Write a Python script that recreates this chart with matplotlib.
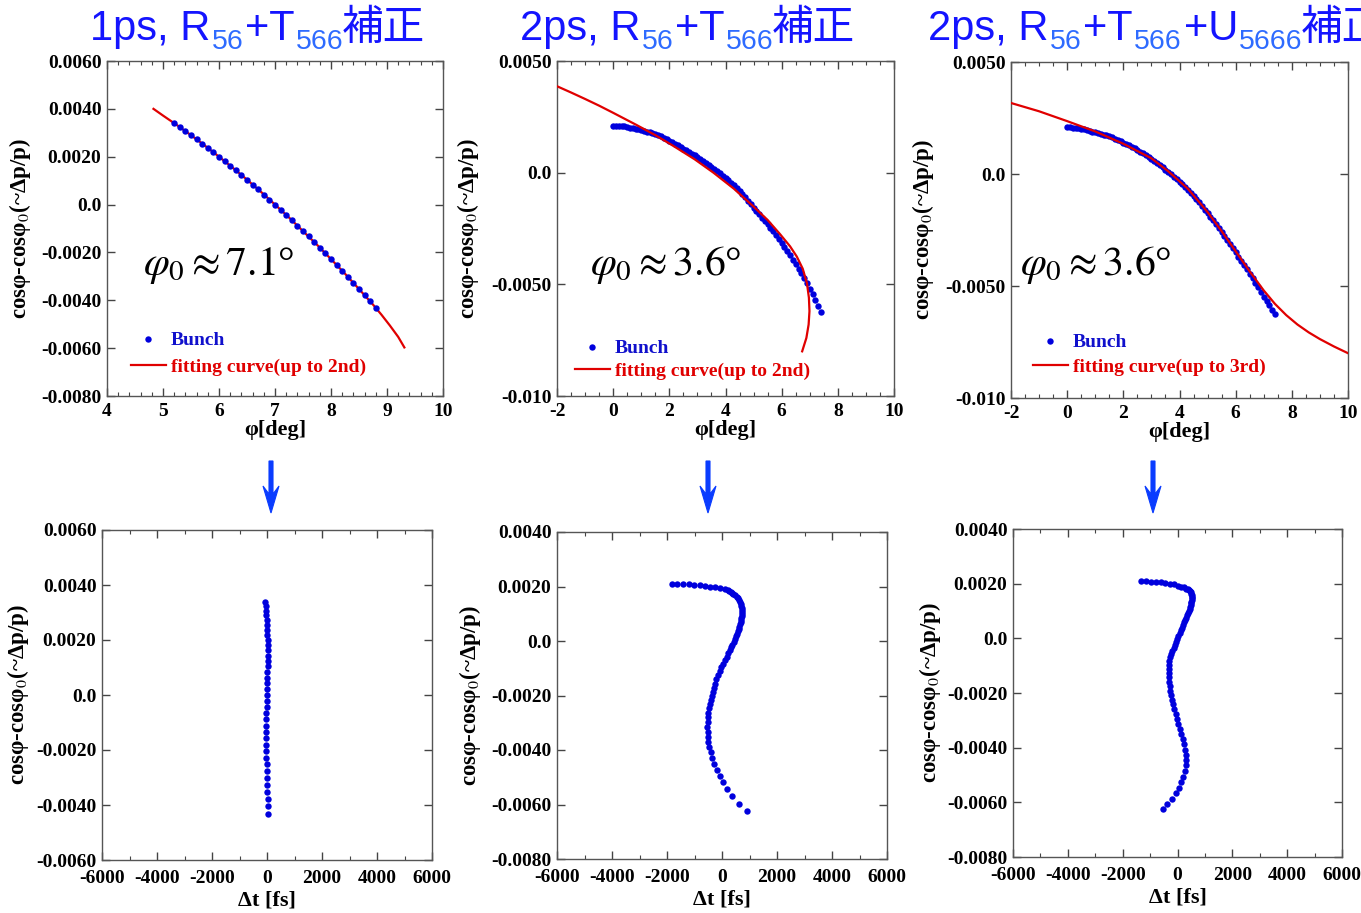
import matplotlib
matplotlib.use("Agg")
import matplotlib.pyplot as plt
from matplotlib.patches import Polygon
from matplotlib.lines import Line2D
from matplotlib.ticker import FixedLocator, FixedFormatter, MultipleLocator

plt.rcParams['font.family'] = ['Liberation Serif', 'DejaVu Serif']
plt.rcParams['mathtext.fontset'] = 'stix'
plt.rcParams['axes.unicode_minus'] = False

# ---------------- data ----------------
# column 1 : 1ps, R56+T566
phi_1ps = [5.2, 5.3, 5.4, 5.5, 5.6, 5.7, 5.8, 5.9, 6.0, 6.1, 6.2, 6.3, 6.4, 6.5, 6.6, 6.7, 6.8, 6.9,
           7.0, 7.1, 7.2, 7.3, 7.4, 7.5, 7.6, 7.7, 7.8, 7.9, 8.0, 8.1, 8.2, 8.3, 8.4, 8.5, 8.6, 8.7, 8.8]
dp_1ps = [0.00340, 0.00323, 0.00307, 0.00290, 0.00272, 0.00255, 0.00237, 0.00219, 0.00200, 0.00181,
          0.00162, 0.00143, 0.00123, 0.00104, 0.00083, 0.00063, 0.00042, 0.00021, 0.0, -0.00022,
          -0.00043, -0.00065, -0.00088, -0.00111, -0.00133, -0.00157, -0.00180, -0.00204, -0.00228,
          -0.00252, -0.00277, -0.00302, -0.00327, -0.00353, -0.00378, -0.00404, -0.00431]
dt_1ps = [-60, -45, -30, -20, -10, 0, 10, 15, 20, 25, 25, 25, 25, 20, 15, 10, 5, 0, -5, -10,
          -15, -20, -20, -25, -25, -25, -25, -20, -20, -15, -10, -5, 0, 10, 20, 30, 45]
fit_phi_1ps = [4.83, 5.0, 5.25, 5.5, 5.75, 6.0, 6.25, 6.5, 6.75, 7.0, 7.25, 7.5, 7.75, 8.0, 8.25,
               8.5, 8.75, 8.9, 9.05, 9.2, 9.31]
fit_dp_1ps = [0.00400, 0.00372, 0.00332, 0.00290, 0.00246, 0.00200, 0.00153, 0.00104, 0.00053, 0.0,
              -0.00054, -0.00111, -0.00168, -0.00228, -0.00289, -0.00353, -0.00418, -0.00460,
              -0.00505, -0.00553, -0.00597]

# columns 2 and 3 : 2ps
phi_2ps = [0.0, 0.1, 0.2, 0.3, 0.4, 0.5, 0.6, 0.7, 0.8, 0.9,
           1.0, 1.1, 1.2, 1.3, 1.4, 1.5, 1.6, 1.7, 1.8, 1.9,
           2.0, 2.1, 2.2, 2.3, 2.4, 2.5, 2.6, 2.7, 2.8, 2.9,
           3.0, 3.1, 3.2, 3.3, 3.4, 3.5, 3.6, 3.7, 3.8, 3.9,
           4.0, 4.1, 4.2, 4.3, 4.4, 4.5, 4.6, 4.7, 4.8, 4.9,
           5.0, 5.1, 5.2, 5.3, 5.4, 5.5, 5.6, 5.7, 5.8, 5.9,
           6.0, 6.1, 6.2, 6.3, 6.4, 6.5, 6.6, 6.7, 6.8, 6.9,
           7.0, 7.1, 7.2, 7.3, 7.4]
dp_2ps_T = [0.00210, 0.00210, 0.00209, 0.00208, 0.00207, 0.00205, 0.00202, 0.00200, 0.00197, 0.00194,
            0.00190, 0.00187, 0.00183, 0.00180, 0.00176, 0.00172, 0.00167, 0.00162, 0.00156, 0.00150,
            0.00143, 0.00136, 0.00129, 0.00122, 0.00115, 0.00108, 0.00100, 0.00093, 0.00085, 0.00077,
            0.00069, 0.00061, 0.00053, 0.00044, 0.00035, 0.00026, 0.00017, 0.00007, -0.00003, -0.00013,
            -0.00023, -0.00034, -0.00045, -0.00057, -0.00070, -0.00083, -0.00097, -0.00111, -0.00126, -0.00141,
            -0.00156, -0.00171, -0.00186, -0.00201, -0.00216, -0.00231, -0.00247, -0.00263, -0.00280, -0.00297,
            -0.00315, -0.00333, -0.00352, -0.00370, -0.00389, -0.00409, -0.00430, -0.00451, -0.00472, -0.00495,
            -0.00519, -0.00544, -0.00570, -0.00597, -0.00624]
dt_2ps_T = [-1818, -1624, -1420, -1215, -1010, -810, -615, -425, -240, -60,
            120, 212, 268, 310, 366, 418, 480, 538, 584, 630,
            655, 679, 702, 712, 722, 729, 722, 717, 706, 692,
            677, 654, 631, 605, 575, 540, 506, 467, 426, 381,
            335, 282, 228, 170, 107, 44, -19, -81, -148, -201,
            -248, -295, -341, -379, -411, -443, -477, -497, -509, -521,
            -533, -522, -511, -500, -465, -416, -357, -277, -198, -85,
            33, 184, 346, 606, 920]
fit_phi_2ps_T = [-2.0, -1.5, -1.0, -0.5, 0.0, 0.84, 1.5, 2.14, 2.9, 3.57, 4.3, 5.0, 5.5, 5.94, 6.3,
                 6.54, 6.75, 6.90, 6.97, 6.99, 6.96, 6.88, 6.73]
fit_dp_2ps_T = [0.00387, 0.00359, 0.00330, 0.00300, 0.00268, 0.00213, 0.00168, 0.00120, 0.00060, 0.0,
                -0.00072, -0.00152, -0.00212, -0.00275, -0.00330, -0.00376, -0.00430, -0.00495,
                -0.00560, -0.00620, -0.00680, -0.00740, -0.00800]

dp_2ps_U = [0.00208, 0.00208, 0.00207, 0.00206, 0.00205, 0.00203, 0.00200, 0.00197, 0.00192, 0.00189,
            0.00186, 0.00182, 0.00179, 0.00175, 0.00172, 0.00168, 0.00163, 0.00158, 0.00152, 0.00146,
            0.00140, 0.00134, 0.00128, 0.00121, 0.00114, 0.00107, 0.00099, 0.00092, 0.00084, 0.00076,
            0.00067, 0.00058, 0.00049, 0.00039, 0.00030, 0.00020, 0.00010, -0.00001, -0.00012, -0.00023,
            -0.00034, -0.00046, -0.00058, -0.00070, -0.00083, -0.00097, -0.00112, -0.00127, -0.00143, -0.00159,
            -0.00175, -0.00191, -0.00207, -0.00224, -0.00241, -0.00258, -0.00276, -0.00294, -0.00312, -0.00331,
            -0.00350, -0.00369, -0.00388, -0.00407, -0.00426, -0.00445, -0.00465, -0.00486, -0.00506, -0.00527,
            -0.00547, -0.00567, -0.00586, -0.00605, -0.00624]
dt_2ps_U = [-1331, -1150, -970, -790, -612, -440, -275, -120, 20, 140,
            240, 320, 380, 430, 465, 490, 505, 515, 520, 518,
            515, 503, 491, 478, 464, 444, 413, 386, 355, 323,
            286, 243, 200, 152, 115, 73, 32, -14, -57, -101,
            -144, -189, -233, -265, -294, -312, -321, -323, -315, -300,
            -284, -259, -226, -191, -152, -114, -68, -16, 36, 88,
            141, 193, 245, 273, 300, 302, 292, 257, 205, 143,
            53, -57, -208, -378, -541]
fit_phi_2ps_U = [-2.0, -1.0, 0.0, 1.0, 2.0, 3.0, 3.6, 4.3, 5.0, 5.5, 6.0, 6.5, 7.0, 7.4, 7.8, 8.2,
                 8.6, 9.0, 9.5, 10.0]
fit_dp_2ps_U = [0.00317, 0.00280, 0.00236, 0.00190, 0.00135, 0.00070, 0.00012, -0.00066, -0.00170,
                -0.00255, -0.00345, -0.00435, -0.00520, -0.00580, -0.00630, -0.00672, -0.00707,
                -0.00737, -0.00770, -0.00800]

# titles (text, kind) ; kind 'm' = main, 's' = subscript, 'c' = CJK main
title_1 = [("1ps, R", "m"), ("56", "s"), ("+T", "m"), ("566", "s"), ("補正", "c")]
title_2 = [("2ps, R", "m"), ("56", "s"), ("+T", "m"), ("566", "s"), ("補正", "c")]
title_3 = [("2ps, R", "m"), ("56", "s"), ("+T", "m"), ("566", "s"), ("+U", "m"), ("5666", "s"), ("補正", "c")]
phi0_labels = [r"$\varphi_0 \approx 7.1$°", r"$\varphi_0 \approx 3.6$°", r"$\varphi_0 \approx 3.6$°"]
legend_labels = [["Bunch", "fitting curve(up to 2nd)"],
                 ["Bunch", "fitting curve(up to 2nd)"],
                 ["Bunch", "fitting curve(up to 3rd)"]]

yt_top1 = [-0.008, -0.006, -0.004, -0.002, 0.0, 0.002, 0.004, 0.006]
yl_top1 = ["-0.0080", "-0.0060", "-0.0040", "-0.0020", "0.0", "0.0020", "0.0040", "0.0060"]
yt_top2 = [-0.010, -0.005, 0.0, 0.005]
yl_top2 = ["-0.010", "-0.0050", "0.0", "0.0050"]
yt_bot1 = [-0.006, -0.004, -0.002, 0.0, 0.002, 0.004, 0.006]
yl_bot1 = ["-0.0060", "-0.0040", "-0.0020", "0.0", "0.0020", "0.0040", "0.0060"]
yt_bot2 = [-0.008, -0.006, -0.004, -0.002, 0.0, 0.002, 0.004]
yl_bot2 = ["-0.0080", "-0.0060", "-0.0040", "-0.0020", "0.0", "0.0020", "0.0040"]

# ---------------- style ----------------
W, H = 1361, 913
BLUE = "#0000DD"
RED = "#E00000"
TBLUE = "#1414FF"
SBLUE = "#2E6BFF"
ARROW = "#0A3CFF"
YLABEL = r"cosφ-cosφ$_0$(~Δp/p)"

fig = plt.figure(figsize=(W / 100, H / 100), dpi=100)


def px_axes(l, t, r, b):
    return fig.add_axes([l / W, 1 - b / H, (r - l) / W, (b - t) / H])


def style(ax, xlim, xmaj, xmin, ylim, yt, yl, xlabel, xlab_y, ylab_x, xpad):
    ax.set_xlim(*xlim)
    ax.set_ylim(*ylim)
    ax.xaxis.set_major_locator(MultipleLocator(xmaj))
    ax.xaxis.set_minor_locator(MultipleLocator(xmin))
    ax.yaxis.set_major_locator(FixedLocator(yt))
    ax.yaxis.set_major_formatter(FixedFormatter(yl))
    ax.tick_params(which='both', direction='in', top=True, right=True, color='#444444')
    ax.tick_params(which='major', length=6, width=1.0, labelsize=14, pad=4)
    ax.tick_params(axis='x', which='major', pad=xpad)
    ax.tick_params(which='minor', length=3, width=0.8)
    for lab in ax.get_xticklabels() + ax.get_yticklabels():
        lab.set_fontweight('bold')
    for sp in ax.spines.values():
        sp.set_color('#555555')
        sp.set_linewidth(1.0)
    ax.set_xlabel(xlabel, fontsize=16, fontweight='bold')
    ax.xaxis.set_label_coords(0.5, xlab_y)
    ax.set_ylabel(YLABEL, fontsize=16.5, fontweight='bold')
    ax.yaxis.set_label_coords(ylab_x, 0.5)


# top row
ax1 = px_axes(107, 61, 443, 396)
ax2 = px_axes(557, 61, 894, 396)
ax3 = px_axes(1011, 62, 1348, 398)
# bottom row
ax4 = px_axes(102, 530, 432, 860)
ax5 = px_axes(557, 532, 887, 859)
ax6 = px_axes(1013, 529, 1342, 857)

ax1.plot(fit_phi_1ps, fit_dp_1ps, color=RED, lw=1.6, zorder=2)
ax1.plot(phi_1ps, dp_1ps, 'o', color=BLUE, ms=4.6, mec='none', zorder=3)
ax2.plot(phi_2ps, dp_2ps_T, 'o', color=BLUE, ms=4.6, mec='none', zorder=2)
ax2.plot(fit_phi_2ps_T, fit_dp_2ps_T, color=RED, lw=1.6, zorder=3)
ax3.plot(phi_2ps, dp_2ps_U, 'o', color=BLUE, ms=4.6, mec='none', zorder=2)
ax3.plot(fit_phi_2ps_U, fit_dp_2ps_U, color=RED, lw=1.6, zorder=3)

ax4.plot(dt_1ps, dp_1ps, 'o', color=BLUE, ms=4.6, mec='none')
ax5.plot(dt_2ps_T, dp_2ps_T, 'o', color=BLUE, ms=4.6, mec='none')
ax6.plot(dt_2ps_U, dp_2ps_U, 'o', color=BLUE, ms=4.6, mec='none')

style(ax1, (4, 10), 1, 0.2, (-0.008, 0.006), yt_top1, yl_top1, "φ[deg]", -0.072, -0.221, 5)
style(ax2, (-2, 10), 2, 0.5, (-0.010, 0.005), yt_top2, yl_top2, "φ[deg]", -0.072, -0.226, 5)
style(ax3, (-2, 10), 2, 0.5, (-0.010, 0.005), yt_top2, yl_top2, "φ[deg]", -0.072, -0.224, 5)
style(ax4, (-6000, 6000), 2000, 1000, (-0.006, 0.006), yt_bot1, yl_bot1, "Δt [fs]", -0.093, -0.216, 7)
style(ax5, (-6000, 6000), 2000, 1000, (-0.008, 0.004), yt_bot2, yl_bot2, "Δt [fs]", -0.093, -0.225, 7)
style(ax6, (-6000, 6000), 2000, 1000, (-0.008, 0.004), yt_bot2, yl_bot2, "Δt [fs]", -0.093, -0.214, 7)

# phi0 annotations
for ax, lab, (x, y) in zip([ax1, ax2, ax3], phi0_labels, [(0.107, 0.361), (0.098, 0.361), (0.027, 0.366)]):
    ax.text(x, y, lab, transform=ax.transAxes, fontsize=30, ha='left', va='baseline', color='black',
            family='Liberation Serif', fontweight='normal')

# legends
leg_pos = [(0.071, 0.060, 0.45), (0.053, 0.048, 0.25), (0.065, 0.065, 0.36)]
for ax, labs, (lx, ly, ls) in zip([ax1, ax2, ax3], legend_labels, leg_pos):
    handles = [Line2D([], [], marker='o', ls='none', color=BLUE, ms=4.6, mec='none'),
               Line2D([], [], color=RED, lw=1.6)]
    leg = ax.legend(handles, labs, loc='lower left', bbox_to_anchor=(lx, ly), frameon=False,
                    borderpad=0, borderaxespad=0, handlelength=1.8, handletextpad=0.25,
                    labelspacing=ls, prop={'family': 'Liberation Serif', 'weight': 'bold', 'size': 14})
    leg.get_texts()[0].set_color("#1010CC")
    leg.get_texts()[1].set_color(RED)

# titles
renderer = fig.canvas.get_renderer()


def draw_title(x_px, base_px, pieces):
    x = x_px
    for txt, kind in pieces:
        if kind == 's':
            size, ypx, col = 20.5, base_px + 9, SBLUE
        else:
            size, ypx, col = 30, base_px, TBLUE
        if kind == 'c':
            x -= 4
        t = fig.text(x / W, 1 - ypx / H, txt, ha='left', va='baseline', fontsize=size, color=col,
                     family=['Liberation Sans', 'Noto Sans CJK JP'], fontweight='normal')
        bb = t.get_window_extent(renderer)
        x = bb.x1 + 1.5


draw_title(90, 40, title_1)
draw_title(520, 40, title_2)
draw_title(928, 40, title_3)

# arrows between rows (notched arrow heads)
for xa in [271, 708, 1153]:
    pts_px = [(xa - 2, 461), (xa + 2, 461), (xa + 2, 494), (xa + 8, 486), (xa, 513),
              (xa - 8, 486), (xa - 2, 494)]
    pts = [(px / W, 1 - py / H) for px, py in pts_px]
    fig.add_artist(Polygon(pts, closed=True, transform=fig.transFigure, facecolor=ARROW,
                           edgecolor=ARROW, lw=0.8))

fig.savefig("out.png", dpi=100)
